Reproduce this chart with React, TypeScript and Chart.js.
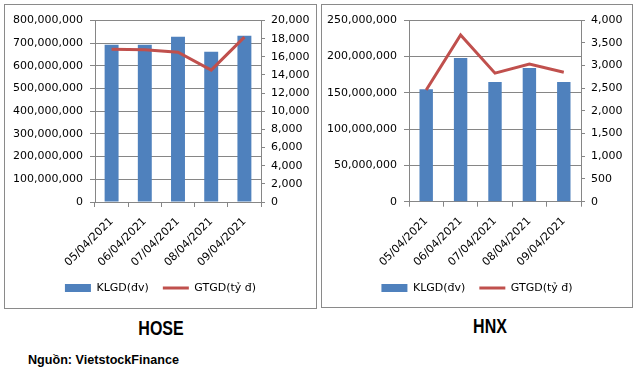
import React, { useEffect, useRef } from 'react';
import { Chart, registerables } from 'chart.js';

Chart.register(...registerables);

const dates = ['05/04/2021', '06/04/2021', '07/04/2021', '08/04/2021', '09/04/2021'];
const hoseVolume = [693000000, 693000000, 728000000, 662000000, 733000000];
const hoseValue = [16840, 16770, 16510, 14530, 18170];
const hnxVolume = [154600000, 197700000, 164700000, 183900000, 164700000];
const hnxValue = [2460, 3670, 2830, 3030, 2850];
const seriesNames = ['KLGD(đv)', 'GTGD(tỷ đ)'];
const exchangeTitles = ['HOSE', 'HNX'];
const sourceText = 'Nguồn: VietstockFinance';

const BLUE = '#4F81BD';
const RED = '#C0504D';
const GRID = '#868686';
const FONT = "'DejaVu Sans', Verdana, sans-serif";

Chart.defaults.font.family = FONT;

const fmt = (v: number | string) => Number(v).toLocaleString('en-US');

type Cfg = {
  volume: number[];
  value: number[];
  leftMax: number;
  leftStep: number;
  rightMax: number;
  rightStep: number;
  width: number;
  height: number;
  plotLeft: number;
  plotRight: number;
  plotTop: number;
  plotBottom: number;
  legendCenter: number;
  barPct: number;
};

const LEGEND_PAD = 14;

function ComboChart({ cfg }: { cfg: Cfg }) {
  const ref = useRef<HTMLCanvasElement>(null);
  useEffect(() => {
    const padBottom = cfg.height - 15.5 - cfg.legendCenter;
    const legendH = 11 + LEGEND_PAD + 10;
    const xHeight = cfg.height - padBottom - legendH - cfg.plotBottom;
    const chart = new Chart(ref.current as HTMLCanvasElement, {
      type: 'bar',
      data: {
        labels: dates,
        datasets: [
          {
            type: 'bar',
            label: seriesNames[0],
            data: cfg.volume,
            backgroundColor: BLUE,
            borderWidth: 0,
            yAxisID: 'y',
            order: 1,
            barPercentage: cfg.barPct,
            categoryPercentage: 1,
          },
          {
            type: 'line',
            label: seriesNames[1],
            data: cfg.value,
            borderColor: RED,
            backgroundColor: RED,
            borderWidth: 3,
            pointRadius: 0,
            tension: 0,
            yAxisID: 'y1',
            order: 0,
          },
        ] as any,
      },
      options: {
        responsive: false,
        animation: false,
        devicePixelRatio: 1,
        layout: { padding: { top: cfg.plotTop, left: 0, right: 0, bottom: padBottom } },
        plugins: {
          tooltip: { enabled: false },
          legend: {
            position: 'bottom',
            labels: {
              usePointStyle: true,
              pointStyleWidth: 26,
              boxHeight: 8,
              padding: LEGEND_PAD,
              color: '#000',
              font: { family: FONT, size: 11 },
              generateLabels: (chart: any) => {
                const items = (Chart.defaults.plugins.legend.labels as any).generateLabels(chart);
                items.sort((a: any, b: any) => a.datasetIndex - b.datasetIndex);
                items.forEach((it: any) => {
                  if (it.datasetIndex === 0) {
                    it.pointStyle = 'rect';
                    it.lineWidth = 0;
                    it.fillStyle = BLUE;
                    it.strokeStyle = BLUE;
                  } else {
                    it.pointStyle = 'line';
                    it.lineWidth = 3;
                    it.fillStyle = RED;
                    it.strokeStyle = RED;
                  }
                });
                return items;
              },
            },
          },
        },
        scales: {
          x: {
            grid: { display: true, drawOnChartArea: false, drawTicks: true, tickLength: 5, color: GRID, offset: true },
            border: { color: GRID },
            ticks: {
              maxRotation: 45,
              minRotation: 45,
              autoSkip: false,
              color: '#000',
              font: { family: FONT, size: 11 },
              padding: 8,
            },
            afterFit: (s: any) => {
              s.height = xHeight;
            },
          },
          y: {
            position: 'left',
            min: 0,
            max: cfg.leftMax,
            ticks: {
              stepSize: cfg.leftStep,
              callback: (v: any) => fmt(v),
              color: '#000',
              font: { family: FONT, size: 11 },
              padding: 7,
            },
            grid: { color: GRID, tickLength: 5 },
            border: { color: GRID },
            afterFit: (s: any) => {
              s.width = cfg.plotLeft;
            },
          },
          y1: {
            position: 'right',
            min: 0,
            max: cfg.rightMax,
            ticks: {
              stepSize: cfg.rightStep,
              callback: (v: any) => fmt(v),
              color: '#000',
              font: { family: FONT, size: 11 },
              padding: 6,
            },
            grid: { drawOnChartArea: false, color: GRID, tickLength: 4 },
            border: { color: GRID },
            afterFit: (s: any) => {
              s.width = cfg.width - cfg.plotRight;
            },
          },
        },
      } as any,
    });
    return () => chart.destroy();
  }, [cfg]);
  return (
    <canvas
      ref={ref}
      width={cfg.width}
      height={cfg.height}
      style={{ display: 'block', width: cfg.width, height: cfg.height }}
    />
  );
}

const hoseCfg: Cfg = {
  volume: hoseVolume,
  value: hoseValue,
  leftMax: 800000000,
  leftStep: 100000000,
  rightMax: 20000,
  rightStep: 2000,
  width: 311,
  height: 303,
  plotLeft: 90,
  plotRight: 256,
  plotTop: 15.5,
  plotBottom: 197,
  legendCenter: 283,
  barPct: 0.42,
};

const hnxCfg: Cfg = {
  volume: hnxVolume,
  value: hnxValue,
  leftMax: 250000000,
  leftStep: 50000000,
  rightMax: 4000,
  rightStep: 500,
  width: 310,
  height: 302,
  plotLeft: 87,
  plotRight: 259,
  plotTop: 15,
  plotBottom: 196.7,
  legendCenter: 283,
  barPct: 0.39,
};

const boxStyle = (left: number, top: number, w: number, h: number): React.CSSProperties => ({
  position: 'absolute',
  left,
  top,
  width: w,
  height: h,
  boxSizing: 'border-box',
  border: '1px solid #8a8a8a',
  background: '#fff',
});

const titleStyle = (center: number, top: number): React.CSSProperties => ({
  position: 'absolute',
  left: center - 100,
  top,
  width: 200,
  textAlign: 'center',
  fontFamily: "'Liberation Sans', Arial, sans-serif",
  fontWeight: 'bold',
  fontSize: 20,
  lineHeight: '20px',
  color: '#000',
  transform: 'scaleX(0.8)',
  transformOrigin: '100px 0',
});

export default function App() {
  return (
    <div
      style={{
        position: 'absolute',
        left: 0,
        top: 0,
        width: 639,
        height: 373,
        background: '#fff',
        overflow: 'hidden',
      }}
    >
      <div style={boxStyle(4, 4, 313, 305)}>
        <ComboChart cfg={hoseCfg} />
      </div>
      <div style={boxStyle(321, 4, 312, 304)}>
        <ComboChart cfg={hnxCfg} />
      </div>
      <div style={titleStyle(161, 318)}>{exchangeTitles[0]}</div>
      <div style={titleStyle(489.5, 316)}>{exchangeTitles[1]}</div>
      <div
        style={{
          position: 'absolute',
          left: 28,
          top: 354,
          fontFamily: "'Liberation Sans', Arial, sans-serif",
          fontWeight: 'bold',
          fontSize: 12.6,
          lineHeight: '12px',
          color: '#000',
          whiteSpace: 'nowrap',
        }}
      >
        {sourceText}
      </div>
    </div>
  );
}
